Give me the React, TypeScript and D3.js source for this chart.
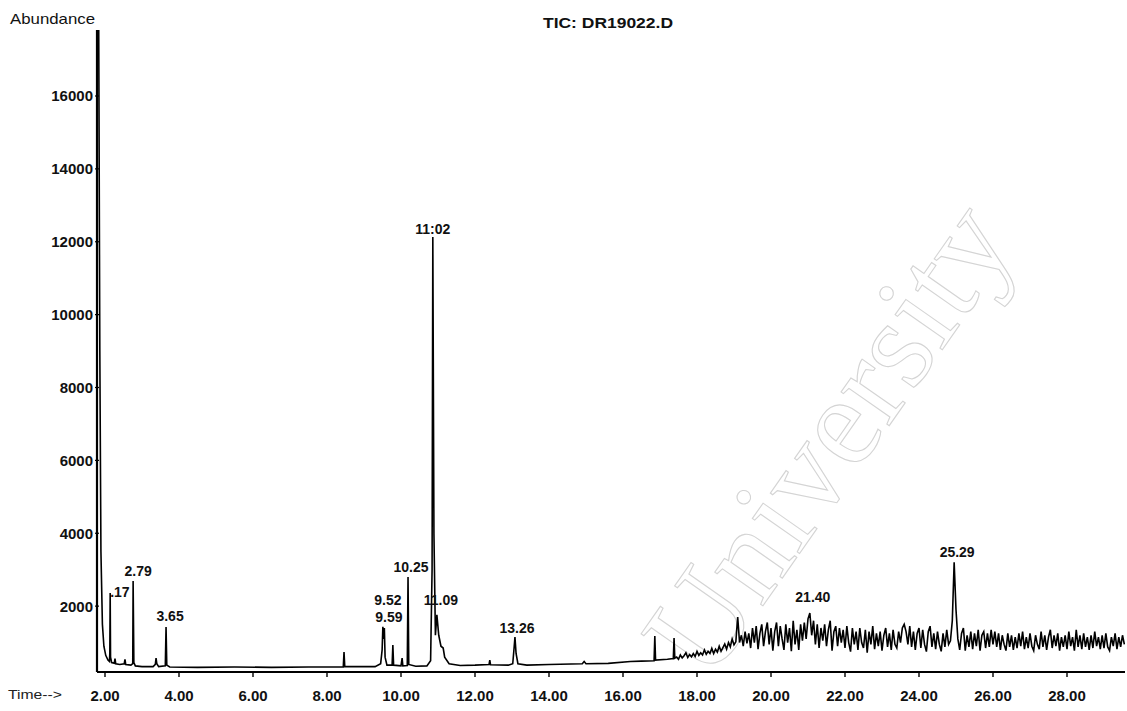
import React from "react";
import * as d3 from "d3";

// ---- Data ----
const title = "TIC: DR19022.D";
const yLabel = "Abundance";
const xLabel = "Time-->";

const yTicks = [2000, 4000, 6000, 8000, 10000, 12000, 14000, 16000];
const xTicks = [2, 4, 6, 8, 10, 12, 14, 16, 18, 20, 22, 24, 26, 28];

// trace before the noisy region: [time (min), abundance]
const earlyTrace: [number, number][] = [
  [1.79, 17900], [1.83, 17900], [1.86, 9000], [1.89, 3500], [1.93, 1500], [1.97, 900],
  [2.02, 650], [2.08, 520], [2.12, 480], [2.13, 700], [2.14, 2360], [2.15, 600], [2.18, 450],
  [2.25, 430], [2.27, 560], [2.29, 420], [2.4, 400], [2.52, 420], [2.54, 540], [2.56, 400],
  [2.7, 380], [2.75, 420], [2.76, 2690], [2.78, 450], [2.82, 360], [3.0, 340], [3.3, 340],
  [3.36, 400], [3.38, 575], [3.4, 420], [3.45, 340], [3.63, 360], [3.65, 1430], [3.67, 380],
  [3.75, 330], [4.5, 320], [5.5, 330], [6.5, 320], [7.5, 330], [8.44, 330], [8.46, 740],
  [8.48, 340], [9.3, 340], [9.45, 420], [9.49, 800], [9.51, 1430], [9.53, 1100], [9.55, 1400],
  [9.57, 600], [9.62, 380], [9.76, 380], [9.78, 930], [9.8, 380], [10.0, 360], [10.03, 575],
  [10.05, 360], [10.17, 370], [10.19, 2800], [10.21, 400], [10.4, 350], [10.7, 360],
  [10.8, 500], [10.84, 3000], [10.86, 12130], [10.89, 4000], [10.93, 1200], [10.97, 1760],
  [11.02, 1200], [11.08, 900], [11.14, 850], [11.18, 600], [11.3, 420], [11.6, 370],
  [12.0, 380], [12.38, 400], [12.4, 520], [12.42, 390], [12.9, 380], [13.02, 420],
  [13.06, 900], [13.08, 1150], [13.11, 700], [13.16, 420], [13.4, 380], [14.0, 400],
  [14.9, 420], [14.95, 480], [15.0, 420], [15.6, 430], [16.2, 480], [16.5, 490],
  [16.84, 500], [16.86, 1180], [16.88, 520], [17.2, 540], [17.36, 560], [17.38, 1125],
  [17.4, 570],
];

// noisy region sampled every 0.05 min from 17.45 min
const noiseStart = 17.45;
const noiseStep = 0.05;
const noiseValues = [
  600, 540, 660, 580, 640, 720, 590, 670, 610, 700,
  620, 760, 650, 720, 660, 800, 680, 760, 700, 840,
  700, 820, 740, 900, 760, 860, 960, 820, 1000, 880,
  1100, 940, 1020, 1700, 1000, 1200, 900, 1300, 980, 1250,
  850, 1400, 1000, 1450, 820, 1250, 1500, 900, 1300, 1550,
  950, 1400, 780, 1300, 1550, 900, 1450, 1100, 800, 1500,
  1000, 1400, 760, 1600, 950, 1350, 800, 1500, 1050, 1550,
  1100, 1650, 1810, 1200, 1600, 950, 1500, 850, 1400, 1050,
  1500, 900, 1350, 1600, 780, 1300, 1450, 900, 1400, 1000,
  1350, 850, 1450, 1000, 750, 1400, 950, 1300, 800, 1400,
  1000, 850, 1350, 720, 1300, 950, 1450, 820, 1250, 900,
  1300, 780, 1200, 1400, 880, 1250, 800, 1350, 950, 850,
  1300, 1000, 1400, 1500, 1300, 950, 1450, 880, 1300, 800,
  1250, 1400, 850, 1350, 950, 750, 1300, 1450, 880, 1250,
  820, 1300, 950, 760, 1250, 880, 1350, 950, 1050, 1600,
  3200, 1900, 1100, 800, 1250, 1400, 780, 1200, 880, 1300,
  820, 1250, 900, 1350, 780, 1200, 1300, 850, 1250, 880,
  1350, 950, 1300, 880, 1250, 800, 1200, 950, 780, 1250,
  880, 1200, 800, 1150, 850, 1250, 900, 1300, 820, 1150,
  850, 1250, 900, 780, 1200, 950, 820, 1300, 880, 1200,
  800, 1150, 1350, 850, 1200, 900, 1250, 780, 1150, 880,
  1200, 820, 1300, 900, 1150, 780, 1350, 880, 1200, 820,
  1250, 880, 1150, 800, 1200, 850, 1300, 900, 1150, 820,
  1200, 850, 1250, 880, 780, 1150, 900, 1250, 820, 1150,
  880, 1200, 950,
];

// peak annotations: label text, time of the drawn peak, abundance of the peak top
const peakLabels = [".17", "2.79", "3.65", "9.52", "9.59", "10.25", "11:02", "11.09", "13.26", "21.40", "25.29"];
const peakTimes = [2.14, 2.76, 3.65, 9.51, 9.51, 10.19, 10.86, 10.97, 13.08, 21.05, 24.95];
const peakTops = [2360, 2690, 1430, 1430, 1430, 2800, 12130, 1760, 1150, 1810, 3200];

// watermark
const watermark = "University";

export default function App() {
  const W = 1127;
  const H = 711;
  const x = d3.scaleLinear().domain([2, 28]).range([105, 1067]);
  const y = d3.scaleLinear().domain([0, 16000]).range([679, 96]);

  const axisX = 97;
  const axisTop = 30;
  const axisBottom = 672;
  const axisRight = 1125;

  const noiseTrace: [number, number][] = noiseValues.map((v, i) => [noiseStart + i * noiseStep, v]);
  const trace = [...earlyTrace, ...noiseTrace];
  const line = d3
    .line<[number, number]>()
    .x((d) => x(d[0]))
    .y((d) => y(d[1]));

  // label placement offsets (pixels) per label
  const labelDx = [0, 5, 4, 5, 6, 3, 0, 4, 2, 3, 3];
  const labelDy = [4, -5, -6, -22, -5, -5, -3, -10, -4, -11, -5];
  const labelAnchor = ["start", "middle", "middle", "middle", "middle", "middle", "middle", "middle", "middle", "middle", "middle"];

  const font = "'Liberation Sans', Arial, Helvetica, sans-serif";

  return (
    <svg
      width={W}
      height={H}
      viewBox={`0 0 ${W} ${H}`}
      style={{ position: "absolute", left: 0, top: 0, background: "#fff" }}
      fontFamily={font}
    >
      <defs>
        <clipPath id="plotClip">
          <rect x={axisX} y={axisTop} width={axisRight - axisX} height={axisBottom - axisTop + 8} />
        </clipPath>
      </defs>
      <rect x={0} y={0} width={W} height={H} fill="#fff" />

      {/* watermark */}
      <text
        transform="translate(828,438) rotate(-55)"
        textAnchor="middle"
        dominantBaseline="central"
        fontFamily="'Liberation Serif', 'Times New Roman', serif"
        fontSize={128}
        fill="none"
        stroke="#d4d4d4"
        strokeWidth={1.1}
      >
        {watermark}
      </text>

      {/* axes */}
      <line x1={axisX} y1={axisTop} x2={axisX} y2={axisBottom} stroke="#000" strokeWidth={2.2} />
      <line x1={axisX} y1={axisBottom} x2={axisRight} y2={axisBottom} stroke="#000" strokeWidth={2.2} />

      {yTicks.map((t) => (
        <g key={t}>
          <line x1={axisX - 2} x2={axisX + 2} y1={y(t)} y2={y(t)} stroke="#000" strokeWidth={1.2} />
          <text x={93} y={y(t)} dy="0.36em" textAnchor="end" fontSize={15} fontWeight="bold" fill="#111">
            {t}
          </text>
        </g>
      ))}

      {xTicks.map((t) => (
        <g key={t}>
          <line x1={x(t)} x2={x(t)} y1={axisBottom} y2={axisBottom + 5} stroke="#000" strokeWidth={1.4} />
          <text x={x(t)} y={701} textAnchor="middle" fontSize={15} fontWeight="bold" fill="#111">
            {t.toFixed(2)}
          </text>
        </g>
      ))}

      <text x={8} y={699} fontSize={12.5} fill="#222" textLength={54} lengthAdjust="spacingAndGlyphs">
        {xLabel}
      </text>
      <text x={10} y={24} fontSize={15} fill="#111" textLength={85} lengthAdjust="spacingAndGlyphs">
        {yLabel}
      </text>
      <text x={608} y={28} textAnchor="middle" fontSize={15} fontWeight="bold" fill="#111" textLength={130} lengthAdjust="spacingAndGlyphs">
        {title}
      </text>

      {/* chromatogram trace */}
      <g clipPath="url(#plotClip)">
        <path d={line(trace) || ""} fill="none" stroke="#000" strokeWidth={1.6} strokeLinejoin="miter" />
      </g>

      {/* peak labels */}
      {peakLabels.map((lab, i) => (
        <text
          key={lab}
          x={x(peakTimes[i]) + labelDx[i]}
          y={y(peakTops[i]) + labelDy[i]}
          textAnchor={labelAnchor[i] as any}
          fontSize={14}
          fontWeight="bold"
          fill="#111"
        >
          {lab}
        </text>
      ))}
    </svg>
  );
}
